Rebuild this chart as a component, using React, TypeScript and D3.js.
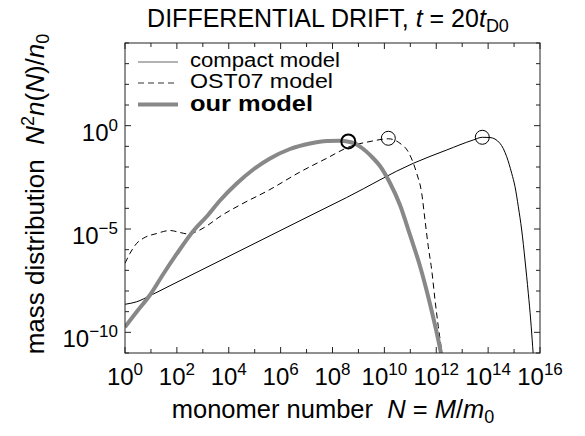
import React from "react";
import * as d3 from "d3";

const W = 585;
const H = 436;

// ---- data ----
const compactN = [1, 2.83, 9.2, 54.3, 2.72e4, 5.58e6, 3.52e8, 1.3e11, 2.53e12, 2.68e13, 5.96e13, 1.18e14, 2.86e14, 5.2e14, 8.11e14, 1.09e15, 1.46e15, 1.97e15, 2.64e15, 3.54e15, 4.38e15, 5.22e15, 5.86e15];
const compactValue = [2.28e-9, 3.01e-9, 5.93e-9, 1.81e-8, 8.91e-7, 2.52e-5, 3.34e-4, 1.51e-2, 6.65e-2, 0.203, 0.274, 0.267, 0.14, 3.15e-2, 4.95e-3, 1.11e-3, 1.2e-4, 8.95e-6, 3.16e-7, 7.74e-9, 3.95e-10, 2.02e-11, 2.63e-12];

const ost07N = [1, 1.56, 2.83, 5.08, 16.7, 54.3, 132, 268, 581, 1.41e3, 4.6e3, 2.72e4, 3.89e5, 5.58e6, 5.97e7, 4.73e8, 2.79e9, 1.42e10, 4.0e10, 8.37e10, 1.76e11, 2.75e11, 3.68e11, 4.94e11, 6.68e11, 8.96e11, 1.2e12, 1.62e12, 1.82e12];
const ost07Value = [2.19e-7, 6.67e-7, 2.03e-6, 3.55e-6, 6.05e-6, 8.47e-6, 6.78e-6, 5.73e-6, 7.57e-6, 1.4e-5, 4.03e-5, 1.45e-4, 8.15e-4, 5.73e-3, 2.64e-2, 9.82e-2, 0.171, 0.232, 0.14, 5.32e-2, 4.95e-3, 5.35e-4, 2.73e-5, 1.39e-6, 1.04e-7, 3.67e-9, 1.87e-10, 9.68e-12, 1.51e-12];

const ourN = [1, 2.83, 9.2, 30, 98.4, 430, 1.41e3, 4.6e3, 2.03e4, 8.83e4, 3.89e5, 2.3e6, 1.36e7, 6.14e7, 1.95e8, 5.65e8, 1.37e9, 3.33e9, 6.78e9, 1.65e10, 4.0e10, 9.73e10, 2.36e11, 5.74e11, 1.2e12, 1.67e12];
const ourValue = [1.81e-10, 9.98e-10, 6.41e-9, 6.65e-8, 6.18e-7, 8.0e-6, 4.03e-5, 2.39e-4, 1.59e-3, 7.57e-3, 2.58e-2, 7.43e-2, 0.137, 0.181, 0.187, 0.153, 8.31e-2, 3.05e-2, 1.12e-2, 1.68e-3, 1.45e-4, 5.13e-6, 1.62e-7, 2.35e-9, 4.26e-11, 5.73e-12];

// characteristic-mass markers: our model, OST07, compact
const markerN = [4.07e8, 1.42e10, 5.96e13];
const markerValue = [0.172, 0.245, 0.274];
const markerBold = [true, false, false];

const xTickExponents = d3.range(0, 17);
const xLabelExponents = [0, 2, 4, 6, 8, 10, 12, 14, 16];
const yTickExponents = d3.range(-11, 5);
const yLabelExponents = [0, -5, -10];

const legendLabels = ["compact model", "OST07 model", "our model"];

const FONT = "'Liberation Sans', Arial, Helvetica, sans-serif";

const left = 125, right = 540, top = 43, bottom = 353;

export default function App() {
  const x = d3.scaleLog().domain([1, 1e16]).range([left, right]);
  const y = d3.scaleLog().domain([1e-11, 1e4]).range([bottom, top]);

  const line = d3
    .line<[number, number]>()
    .x((d) => x(d[0]))
    .y((d) => y(d[1]))
    .curve(d3.curveMonotoneX);

  const zip = (a: number[], b: number[]) => a.map((v, i) => [v, b[i]] as [number, number]);

  const supFmt = (e: number) => (e < 0 ? "\u2212" + Math.abs(e) : String(e));

  return (
    <svg width={W} height={H} style={{ position: "absolute", left: 0, top: 0, background: "#fff" }} fontFamily={FONT}>
      <rect width={W} height={H} fill="#fff" />
      <defs>
        <clipPath id="plot">
          <rect x={left} y={top} width={right - left} height={bottom - top} />
        </clipPath>
      </defs>

      {/* title */}
      <text x={328} y={27} textAnchor="middle" fontSize={25} fill="#000">
        DIFFERENTIAL DRIFT,{" "}
        <tspan fontStyle="italic">t</tspan> = 20<tspan fontStyle="italic">t</tspan>
        <tspan fontSize={18} dy={5}>D0</tspan>
      </text>

      {/* curves */}
      <g clipPath="url(#plot)" fill="none">
        <path d={line(zip(compactN, compactValue)) || ""} stroke="#000" strokeWidth={1} />
        <path d={line(zip(ost07N, ost07Value)) || ""} stroke="#000" strokeWidth={1} strokeDasharray="6,4" />
        <path d={line(zip(ourN, ourValue)) || ""} stroke="#888" strokeWidth={4} />
        {markerN.map((n, i) => (
          <circle key={i} cx={x(n)} cy={y(markerValue[i])} r={7} fill="none" stroke="#000" strokeWidth={markerBold[i] ? 2 : 1} />
        ))}
      </g>

      {/* frame */}
      <rect x={left} y={top} width={right - left} height={bottom - top} fill="none" stroke="#222" strokeWidth={1} />

      {/* x ticks */}
      {xTickExponents.map((e) => {
        const px = x(Math.pow(10, e));
        const len = e % 2 === 0 ? 6 : 4;
        return (
          <g key={"xt" + e} stroke="#222" strokeWidth={1}>
            <line x1={px} x2={px} y1={bottom} y2={bottom - len} />
            <line x1={px} x2={px} y1={top} y2={top + len} />
          </g>
        );
      })}
      {yTickExponents.map((e) => {
        const py = y(Math.pow(10, e));
        const len = e % 5 === 0 ? 6 : 4;
        return (
          <g key={"yt" + e} stroke="#222" strokeWidth={1}>
            <line x1={left} x2={left + len} y1={py} y2={py} />
            <line x1={right} x2={right - len} y1={py} y2={py} />
          </g>
        );
      })}

      {/* x tick labels */}
      {xLabelExponents.map((e) => (
        <text key={"xl" + e} x={x(Math.pow(10, e))} y={385} textAnchor="middle" fontSize={24} fill="#000">
          10<tspan fontSize={17} dy={-10}>{supFmt(e)}</tspan>
        </text>
      ))}

      {/* y tick labels */}
      {yLabelExponents.map((e) => (
        <text key={"yl" + e} x={118} y={y(Math.pow(10, e)) + 15} textAnchor="end" fontSize={24} fill="#000">
          10<tspan fontSize={17} dy={-10}>{supFmt(e)}</tspan>
        </text>
      ))}

      {/* x axis title */}
      <text x={333} y={418} textAnchor="middle" fontSize={25.5} fill="#000">
        monomer number{"\u00a0\u00a0"}<tspan fontStyle="italic">N</tspan> = <tspan fontStyle="italic">M</tspan>/<tspan fontStyle="italic">m</tspan>
        <tspan fontSize={18} dy={5}>0</tspan>
      </text>

      {/* y axis title */}
      <text transform="translate(44,194) rotate(-90)" textAnchor="middle" fontSize={26} fill="#000">
        mass distribution{"\u00a0\u00a0"}<tspan fontStyle="italic">N</tspan>
        <tspan fontSize={18} dy={-10}>2</tspan>
        <tspan fontStyle="italic" dy={10}>n</tspan>(<tspan fontStyle="italic">N</tspan>)/<tspan fontStyle="italic">n</tspan>
        <tspan fontSize={18} dy={5}>0</tspan>
      </text>

      {/* legend */}
      <g>
        <line x1={138} x2={178} y1={62} y2={62} stroke="#666" strokeWidth={1} />
        <line x1={138} x2={178} y1={83} y2={83} stroke="#333" strokeWidth={1} strokeDasharray="6,4" />
        <line x1={138} x2={178} y1={104.5} y2={104.5} stroke="#888" strokeWidth={4} />
        <text x={190} y={67} fontSize={19.5} textLength={150} lengthAdjust="spacingAndGlyphs" fill="#000">{legendLabels[0]}</text>
        <text x={190} y={88} fontSize={20} textLength={143} lengthAdjust="spacingAndGlyphs" fill="#000">{legendLabels[1]}</text>
        <text x={190} y={110.5} fontSize={22} textLength={123} lengthAdjust="spacingAndGlyphs" fontWeight="bold" fill="#000">{legendLabels[2]}</text>
      </g>
    </svg>
  );
}
